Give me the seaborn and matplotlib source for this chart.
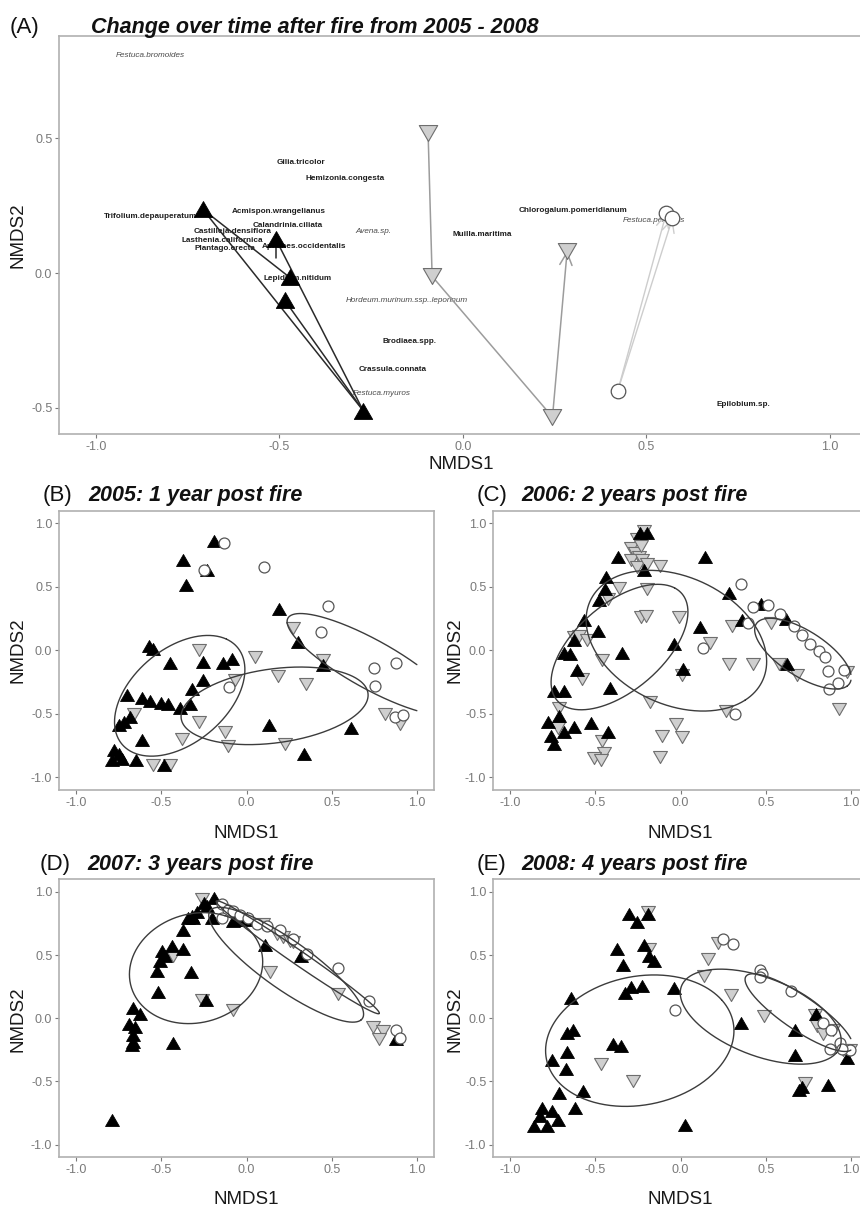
import numpy as np
import matplotlib
matplotlib.use("Agg")
import matplotlib.pyplot as plt
from matplotlib.markers import MarkerStyle
from matplotlib.path import Path
import seaborn as sns

# ---------------- DATA ----------------
# Panel A: group centroids over time (NMDS1, NMDS2)
A_black_x = [-0.709, -0.510, -0.472, -0.486, -0.272]
A_black_y = [0.237, 0.126, -0.016, -0.100, -0.510]
A_grey_x = [-0.095, -0.084, 0.244, 0.284]
A_grey_y = [0.521, -0.012, -0.534, 0.083]
A_open_x = [0.422, 0.554, 0.571]
A_open_y = [-0.436, 0.222, 0.204]
# trajectories as (from index, to index, arrow head?)
A_black_links = [(0, 4, False), (0, 2, False), (1, 4, False), (3, 4, False)]
A_black_stub = [(-0.510, 0.126, -0.510, 0.058)]
A_grey_links = [(0, 1, False), (1, 2, False), (2, 3, True)]
A_open_links = [(0, 1, True), (0, 2, True)]

A_species = ["Festuca.bromoides", "Gilia.tricolor", "Hemizonia.congesta",
             "Trifolium.depauperatum", "Acmispon.wrangelianus", "Calandrinia.ciliata",
             "Castilleja.densiflora", "Lasthenia.californica", "Plantago.erecta",
             "Aphanes.occidentalis", "Avena.sp.", "Muilla.maritima", "Lepidium.nitidum",
             "Hordeum.murinum.ssp..leporinum", "Brodiaea.spp.", "Crassula.connata",
             "Festuca.myuros", "Chlorogalum.pomeridianum", "Festuca.perennis", "Epilobium.sp."]
A_species_x = [-0.852, -0.442, -0.322, -0.852, -0.502, -0.478, -0.628, -0.655, -0.649,
               -0.434, -0.243, 0.053, -0.450, -0.152, -0.145, -0.193, -0.222, 0.299, 0.521, 0.763]
A_species_y = [0.808, 0.411, 0.352, 0.211, 0.230, 0.178, 0.156, 0.122, 0.093,
               0.100, 0.156, 0.144, -0.019, -0.100, -0.252, -0.359, -0.448, 0.233, 0.196, -0.489]
A_species_exotic = [True, False, False, False, False, False, False, False, False,
                    False, True, False, False, True, False, False, True, False, True, False]

# Panel B: 2005
B_black_x = [-0.189, -0.375, -0.234, -0.357, 0.191, 0.303, 0.449, -0.576, -0.551, -0.449,
             -0.258, -0.141, -0.084, -0.258, -0.322, -0.703, -0.615, -0.570, -0.504, -0.459,
             -0.391, -0.332, -0.684, -0.723, -0.752, -0.615, 0.133, 0.615, 0.336, -0.781,
             -0.752, -0.791, -0.732, -0.648, -0.488]
B_black_y = [0.858, 0.709, 0.635, 0.512, 0.328, 0.063, -0.118, 0.031, 0.013, -0.097,
             -0.092, -0.097, -0.068, -0.236, -0.302, -0.354, -0.373, -0.399, -0.415, -0.425,
             -0.451, -0.420, -0.525, -0.564, -0.591, -0.709, -0.591, -0.609, -0.814, -0.787,
             -0.814, -0.866, -0.853, -0.861, -0.900]
B_grey_x = [0.273, -0.277, 0.049, 0.449, 0.186, 0.348, -0.068, -0.664, -0.277, -0.127,
            -0.381, -0.111, 0.225, 0.811, 0.898, -0.551, -0.449]
B_grey_y = [0.176, 0.005, -0.052, -0.079, -0.205, -0.262, -0.236, -0.499, -0.564, -0.643,
            -0.696, -0.756, -0.735, -0.499, -0.577, -0.906, -0.906]
B_open_x = [-0.133, -0.250, 0.104, 0.479, 0.434, 0.746, 0.875, 0.756, -0.105, 0.869, 0.918]
B_open_y = [0.845, 0.630, 0.656, 0.349, 0.144, -0.139, -0.097, -0.281, -0.289, -0.525, -0.512]

# Panel C: 2006
C_black_x = [-0.239, -0.196, -0.367, 0.141, -0.441, -0.216, -0.447, -0.480, 0.284, 0.471,
             -0.569, -0.484, 0.363, 0.618, 0.114, -0.627, -0.039, -0.347, -0.682, -0.651,
             -0.608, 0.016, 0.624, -0.416, -0.741, -0.686, -0.716, -0.780, -0.529, -0.425,
             -0.682, -0.627, -0.761, -0.741]
C_black_y = [0.924, 0.924, 0.735, 0.735, 0.577, 0.630, 0.486, 0.399, 0.451, 0.362,
             0.236, 0.152, 0.236, 0.249, 0.184, 0.079, 0.052, -0.021, -0.021, -0.031,
             -0.157, -0.144, -0.110, -0.297, -0.323, -0.323, -0.520, -0.564, -0.572, -0.643,
             -0.643, -0.604, -0.677, -0.740]
C_grey_x = [-0.216, -0.255, -0.294, -0.270, -0.245, -0.294, -0.225, -0.259, -0.196, -0.230,
            -0.122, -0.363, -0.196, -0.427, -0.235, -0.206, -0.010, 0.300, 0.533, 0.171,
            -0.624, -0.598, -0.549, -0.461, -0.578, 0.010, 0.286, 0.422, 0.578, 0.686,
            0.976, -0.716, -0.722, -0.180, 0.265, -0.025, 0.010, -0.108, -0.461, -0.451,
            -0.510, -0.470, -0.122, 0.931]
C_grey_y = [0.937, 0.880, 0.810, 0.770, 0.735, 0.710, 0.710, 0.660, 0.680, 0.820,
            0.661, 0.491, 0.486, 0.407, 0.262, 0.268, 0.262, 0.192, 0.218, 0.058,
            0.105, 0.110, 0.079, -0.079, -0.223, -0.197, -0.110, -0.110, -0.110, -0.197,
            -0.171, -0.451, -0.612, -0.407, -0.480, -0.577, -0.682, -0.677, -0.717, -0.808,
            -0.848, -0.861, -0.840, -0.459]
C_open_x = [0.357, 0.422, 0.514, 0.396, 0.584, 0.667, 0.710, 0.761, 0.810, 0.847,
            0.863, 0.961, 0.922, 0.873, 0.133, 0.320]
C_open_y = [0.520, 0.341, 0.354, 0.215, 0.283, 0.189, 0.118, 0.047, -0.005, -0.052,
            -0.163, -0.157, -0.257, -0.302, 0.018, -0.504]

# Panel D: 2007
D_black_x = [-0.189, -0.250, -0.234, -0.293, -0.322, -0.342, -0.313, -0.205, -0.078, -0.055,
             0.000, -0.010, -0.375, -0.371, -0.439, -0.498, -0.479, -0.508, -0.527, -0.328,
             -0.518, -0.240, 0.107, 0.322, -0.668, -0.629, -0.693, -0.654, -0.668, -0.668,
             -0.674, -0.434, -0.791, 0.879]
D_black_y = [0.954, 0.915, 0.889, 0.844, 0.810, 0.797, 0.797, 0.792, 0.771, 0.776,
             0.797, 0.776, 0.697, 0.548, 0.574, 0.529, 0.495, 0.456, 0.377, 0.364,
             0.207, 0.147, 0.582, 0.495, 0.081, 0.037, -0.047, -0.068, -0.134, -0.186,
             -0.212, -0.194, -0.802, -0.160]
D_grey_x = [-0.264, -0.430, 0.137, -0.078, -0.264, 0.176, 0.215, 0.254, 0.273, 0.537,
            0.742, 0.801, 0.777, 0.098]
D_grey_y = [0.941, 0.495, 0.364, 0.063, 0.142, 0.666, 0.640, 0.613, 0.600, 0.194,
            -0.068, -0.100, -0.160, 0.744]
D_open_x = [-0.146, -0.111, -0.078, -0.146, -0.039, 0.010, 0.059, 0.117, 0.195, 0.273,
            0.352, 0.537, 0.719, 0.875, 0.898]
D_open_y = [0.902, 0.855, 0.850, 0.797, 0.818, 0.797, 0.744, 0.731, 0.697, 0.626,
            0.508, 0.398, 0.134, -0.089, -0.155]

# Panel E: 2008
E_black_x = [-0.302, -0.257, -0.194, -0.371, -0.217, -0.184, -0.154, -0.341, -0.292, -0.327,
             -0.227, -0.040, -0.646, 0.353, 0.796, 0.672, 0.672, 0.977, -0.669, -0.630,
             -0.669, -0.754, -0.672, -0.400, -0.351, -0.712, -0.573, -0.817, -0.754, -0.823,
             -0.719, -0.862, -0.783, -0.620, 0.023, 0.692, 0.711, 0.868]
E_black_y = [0.822, 0.764, 0.827, 0.547, 0.581, 0.494, 0.450, 0.423, 0.245, 0.198,
             0.258, 0.240, 0.161, -0.035, 0.035, -0.096, -0.292, -0.311, -0.117, -0.090,
             -0.266, -0.327, -0.402, -0.201, -0.222, -0.594, -0.576, -0.712, -0.730, -0.772,
             -0.803, -0.856, -0.851, -0.712, -0.843, -0.568, -0.541, -0.528]
E_grey_x = [-0.191, -0.185, 0.160, 0.219, 0.137, 0.294, 0.491, -0.469, -0.282, 0.731,
            0.787, 0.801, 0.836, 0.895, 0.954, 0.997]
E_grey_y = [0.843, 0.547, 0.468, 0.599, 0.337, 0.188, 0.017, -0.358, -0.494, -0.510,
            0.030, -0.064, -0.122, -0.096, -0.253, -0.247]
E_open_x = [0.249, 0.308, 0.465, 0.479, 0.465, 0.648, -0.036, 0.833, 0.884, 0.937,
            0.878, 0.996, 0.947]
E_open_y = [0.625, 0.586, 0.382, 0.350, 0.324, 0.214, 0.062, -0.038, -0.090, -0.195,
            -0.240, -0.253, -0.240]

# 95% ellipses per group: (centre x, centre y, semi-major, semi-minor, angle deg)
B_ellipses = [(-0.393, -0.358, 0.524, 0.313, 58.4), (0.164, -0.437, 0.558, 0.289, 12.0),
              (0.730, -0.110, 0.610, 0.175, -38.0)]
C_ellipses = [(-0.359, 0.026, 0.567, 0.290, 55.2), (-0.025, 0.076, 0.618, 0.454, -49.3),
              (0.718, -0.026, 0.364, 0.160, -44.3)]
D_ellipses = [(-0.297, 0.397, 0.448, 0.381, 67.8), (0.232, 0.424, 0.620, 0.170, -45.0),
              (0.300, 0.483, 0.653, 0.050, -43.0)]
E_ellipses = [(-0.240, -0.177, 0.579, 0.491, 34.0), (0.470, 0.013, 0.529, 0.291, -32.6),
              (0.695, 0.045, 0.425, 0.120, -44.0)]

TICKS = [-1.0, -0.5, 0.0, 0.5, 1.0]
TICK_LABELS = ["-1.0", "-0.5", "0.0", "0.5", "1.0"]
A_YTICKS = [-0.5, 0.0, 0.5]
A_YTICK_LABELS = ["-0.5", "0.0", "0.5"]

# ---------------- STYLE ----------------
sns.set_theme(style="white")
plt.rcParams['font.family'] = ['Liberation Sans', 'DejaVu Sans']

W, H = 860, 1207
fig = plt.figure(figsize=(W / 100, H / 100), dpi=100)


def px_axes(left, top, right, bottom):
    return fig.add_axes([left / W, 1 - bottom / H, (right - left) / W, (bottom - top) / H])


TRI_UP = MarkerStyle(Path([(0, 0.5), (-0.577, -0.5), (0.577, -0.5), (0, 0.5)], closed=True))
TRI_DN = MarkerStyle(Path([(0, -0.5), (-0.577, 0.5), (0.577, 0.5), (0, -0.5)], closed=True))

BLACK = "#000000"
GREY_FILL = "#cfcfcf"
GREY_EDGE = "#6e6e6e"
OPEN_EDGE = "#555555"
SPINE = "#b0b0b0"
TICKC = "#7a7a7a"


def style_axes(ax, xlim, ylim, xticks, xtl, yticks, ytl):
    ax.set_xlim(*xlim)
    ax.set_ylim(*ylim)
    ax.set_xticks(xticks)
    ax.set_xticklabels(xtl)
    ax.set_yticks(yticks)
    ax.set_yticklabels(ytl)
    ax.set_xlabel("")
    ax.set_ylabel("")
    ax.grid(False)
    for s in ax.spines.values():
        s.set_color(SPINE)
        s.set_linewidth(1.2)
        s.set_visible(True)
    ax.tick_params(axis="both", which="major", length=3, width=0.8, color=TICKC,
                   labelsize=9, labelcolor=TICKC, pad=2, direction="out",
                   bottom=True, left=True)


def scatter_groups(ax, bx, by, gx, gy, ox, oy, s_tri, s_circ):
    sns.scatterplot(x=gx, y=gy, ax=ax, marker=TRI_DN, s=s_tri, color=GREY_FILL,
                    edgecolor=GREY_EDGE, linewidth=0.8, zorder=3, legend=False)
    sns.scatterplot(x=bx, y=by, ax=ax, marker=TRI_UP, s=s_tri, color=BLACK,
                    edgecolor=BLACK, linewidth=0.6, zorder=4, legend=False)
    sns.scatterplot(x=ox, y=oy, ax=ax, marker="o", s=s_circ, color="white",
                    edgecolor=OPEN_EDGE, linewidth=0.9, zorder=5, legend=False)


def draw_ellipses(ax, params):
    t = np.linspace(0, 2 * np.pi, 400)
    for cx, cy, a, b, ang in params:
        th = np.deg2rad(ang)
        xe = cx + a * np.cos(t) * np.cos(th) - b * np.sin(t) * np.sin(th)
        ye = cy + a * np.cos(t) * np.sin(th) + b * np.sin(t) * np.cos(th)
        out = (np.abs(xe) > 1.0) | (np.abs(ye) > 1.0)
        xe = np.where(out, np.nan, xe)
        ye = np.where(out, np.nan, ye)
        ax.plot(xe, ye, color="#3c3c3c", lw=1.0, zorder=6)


# ---------------- PANEL A ----------------
axA = px_axes(59.3, 36, 866.6, 434)
for name, x, y, exotic in zip(A_species, A_species_x, A_species_y, A_species_exotic):
    if exotic:
        axA.text(x, y, name, ha="center", va="center", fontsize=5.9, style="italic",
                 color="#4a4a4a", zorder=1)
    else:
        axA.text(x, y, name, ha="center", va="center", fontsize=5.9, fontweight="bold",
                 color="#1e1e1e", zorder=1)


def trajectories(ax, xs, ys, links, color, lw):
    for i, j, head in links:
        if head:
            ax.annotate("", xy=(xs[j], ys[j]), xytext=(xs[i], ys[i]),
                        arrowprops=dict(arrowstyle="->,head_length=0.45,head_width=0.22",
                                        color=color, lw=lw, shrinkA=0, shrinkB=0,
                                        mutation_scale=20), zorder=2)
        else:
            ax.plot([xs[i], xs[j]], [ys[i], ys[j]], color=color, lw=lw, zorder=2)


trajectories(axA, A_black_x, A_black_y, A_black_links, "#2a2a2a", 1.1)
for x0, y0, x1, y1 in A_black_stub:
    axA.plot([x0, x1], [y0, y1], color="#2a2a2a", lw=1.1, zorder=2)
trajectories(axA, A_grey_x, A_grey_y, A_grey_links, "#9c9c9c", 1.1)
trajectories(axA, A_open_x, A_open_y, A_open_links, "#cdcdcd", 1.0)
scatter_groups(axA, A_black_x, A_black_y, A_grey_x, A_grey_y, A_open_x, A_open_y, 175, 110)
style_axes(axA, (-1.1, 1.1), (-0.597, 0.880), TICKS, TICK_LABELS, A_YTICKS, A_YTICK_LABELS)

# ---------------- PANELS B-E ----------------
axB = px_axes(59.3, 510.7, 434, 790)
axC = px_axes(493.3, 510.7, 868, 790)
axD = px_axes(59.3, 879.3, 434, 1157.3)
axE = px_axes(493.3, 879.3, 868, 1157.3)

panels = [
    (axB, B_black_x, B_black_y, B_grey_x, B_grey_y, B_open_x, B_open_y, B_ellipses),
    (axC, C_black_x, C_black_y, C_grey_x, C_grey_y, C_open_x, C_open_y, C_ellipses),
    (axD, D_black_x, D_black_y, D_grey_x, D_grey_y, D_open_x, D_open_y, D_ellipses),
    (axE, E_black_x, E_black_y, E_grey_x, E_grey_y, E_open_x, E_open_y, E_ellipses),
]
for ax, bx, by, gx, gy, ox, oy, ell in panels:
    scatter_groups(ax, bx, by, gx, gy, ox, oy, 100, 62)
    draw_ellipses(ax, ell)
    style_axes(ax, (-1.1, 1.1), (-1.1, 1.1), TICKS, TICK_LABELS, TICKS, TICK_LABELS)

# ---------------- TEXT ----------------
def ftext(xp, yp, s, **kw):
    fig.text(xp / W, 1 - yp / H, s, **kw)


LAB = dict(fontsize=16, color="#111111", va="baseline", ha="left")
TIT = dict(fontsize=15.5, color="#111111", va="baseline", ha="left",
           fontweight="bold", style="italic")
ftext(10, 32.5, "(A)", **LAB)
ftext(90.7, 32.5, "Change over time after fire from 2005 - 2008", **TIT)
ftext(43, 500.7, "(B)", **LAB)
ftext(88, 500.7, "2005: 1 year post fire", **TIT)
ftext(477, 500.7, "(C)", **LAB)
ftext(521, 500.7, "2006: 2 years post fire", **TIT)
ftext(40, 870, "(D)", **LAB)
ftext(87, 870, "2007: 3 years post fire", **TIT)
ftext(477, 870, "(E)", **LAB)
ftext(521, 870, "2008: 4 years post fire", **TIT)

AXL = dict(fontsize=13.5, color="#1a1a1a")
ftext(461, 469, "NMDS1", ha="center", va="baseline", **AXL)
ftext(246.7, 838, "NMDS1", ha="center", va="baseline", **AXL)
ftext(680, 838, "NMDS1", ha="center", va="baseline", **AXL)
ftext(246.7, 1204, "NMDS1", ha="center", va="baseline", **AXL)
ftext(680, 1204, "NMDS1", ha="center", va="baseline", **AXL)
ftext(17.5, 235, "NMDS2", ha="center", va="center", rotation=90, **AXL)
ftext(17.5, 650, "NMDS2", ha="center", va="center", rotation=90, **AXL)
ftext(455, 650, "NMDS2", ha="center", va="center", rotation=90, **AXL)
ftext(17.5, 1019.5, "NMDS2", ha="center", va="center", rotation=90, **AXL)
ftext(455, 1019.5, "NMDS2", ha="center", va="center", rotation=90, **AXL)

fig.savefig("out.png", dpi=100)
